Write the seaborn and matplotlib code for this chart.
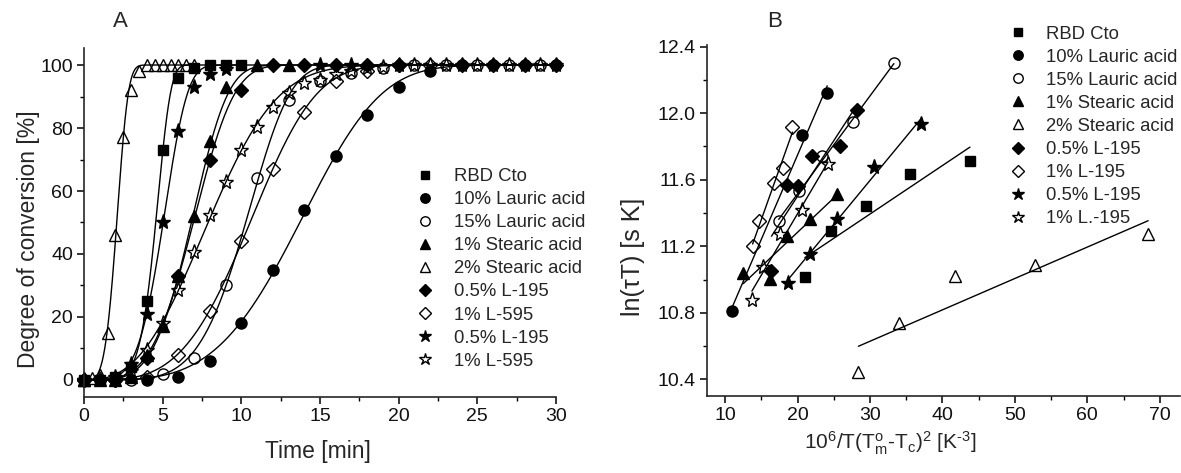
import numpy as np
import pandas as pd
import matplotlib
matplotlib.use('Agg')
import matplotlib.pyplot as plt
import seaborn as sns
from matplotlib.ticker import MultipleLocator
from matplotlib.lines import Line2D

sns.set_theme(style='ticks')
plt.rcParams['font.family'] = ['Liberation Sans', 'DejaVu Sans']
plt.rcParams['mathtext.fontset'] = 'custom'
plt.rcParams['mathtext.rm'] = 'Liberation Sans'
plt.rcParams['mathtext.it'] = 'Liberation Sans:italic'

# ---------------- Panel A data (Time [min], Degree of conversion [%]) ----------------
labels_A = ['RBD Cto', '10% Lauric acid', '15% Lauric acid', '1% Stearic acid',
            '2% Stearic acid', '0.5% L-195', '1% L-595', '0.5% L-195', '1% L-595']

rbd_t = [0, 1, 2, 3, 4, 5, 6, 7, 8, 9, 10]
rbd_x = [0, 0, 1, 4, 25, 73, 96, 99, 100, 100, 100]
lau10_t = [0, 2, 4, 6, 8, 10, 12, 14, 16, 18, 20, 22, 24, 26, 28, 30]
lau10_x = [0, 0, 0, 1, 6, 18, 35, 54, 71, 84, 93, 98, 100, 100, 100, 100]
lau15_t = [1, 3, 5, 7, 9, 11, 13, 15, 17, 19, 21, 23, 25, 27, 29]
lau15_x = [0, 0, 2, 7, 30, 64, 89, 95, 97.5, 99, 100, 100, 100, 100, 100]
st1_t = [0, 1, 2, 3, 4, 5, 6, 7, 8, 9, 11, 13]
st1_x = [0, 0, 0, 1, 8, 17, 33, 52, 76, 93, 100, 100]
st2_t = [0, 0.5, 1, 1.5, 2, 2.5, 3, 3.5, 4, 4.5, 5, 5.5, 6, 6.5, 7]
st2_x = [0, 0.5, 1.5, 15, 46, 77, 92, 98, 100, 100, 100, 100, 100, 100, 100]
l195d_t = [0, 2, 4, 6, 8, 10, 12, 14, 16, 18, 20]
l195d_x = [0, 0, 7, 33, 70, 92, 100, 100, 100, 100, 100]
l595d_t = [0, 2, 4, 6, 8, 10, 12, 14, 16, 18, 20, 22, 24, 26, 28, 30]
l595d_x = [0, 0, 1, 8, 22, 44, 67, 85, 95, 98, 100, 100, 100, 100, 100, 100]
l195s_t = [0, 1, 2, 3, 4, 5, 6, 7, 8, 9, 15, 17]
l195s_x = [0, 0, 1, 5, 21, 50, 79, 93, 97, 98.6, 100, 100]
l595s_t = [0, 1, 2, 3, 4, 5, 6, 7, 8, 9, 10, 11, 12, 13, 14, 15, 16, 17, 18, 19,
           20, 21, 22, 23, 24, 25, 26, 27, 28, 29, 30]
l595s_x = [0, 0, 0, 3, 9.5, 18, 28.6, 40.7, 52.4, 63, 73, 80.4, 86.8, 91.2, 94.2, 95.2,
           97, 98, 99, 99.5, 100, 100, 100, 100, 100, 100, 100, 100, 100, 100, 100]

series_A = [(rbd_t, rbd_x), (lau10_t, lau10_x), (lau15_t, lau15_x), (st1_t, st1_x),
            (st2_t, st2_x), (l195d_t, l195d_x), (l595d_t, l595d_x),
            (l195s_t, l195s_x), (l595s_t, l595s_x)]

# ---------------- Panel B data ----------------
labels_B = ['RBD Cto', '10% Lauric acid', '15% Lauric acid', '1% Stearic acid',
            '2% Stearic acid', '0.5% L-195', '1% L-195', '0.5% L-195', '1% L.-195']

b_rbd_x = [21.0, 24.6, 29.4, 35.5, 43.8]
b_rbd_y = [11.016, 11.29, 11.44, 11.636, 11.712]
b_lau10_x = [10.9, 20.6, 24.1]
b_lau10_y = [10.81, 11.87, 12.12]
b_lau15_x = [17.4, 20.2, 23.4, 27.7, 33.3]
b_lau15_y = [11.35, 11.53, 11.74, 11.95, 12.30]
b_st1_x = [12.5, 16.2, 18.6, 21.7, 25.4]
b_st1_y = [11.04, 11.006, 11.262, 11.366, 11.516]
b_st2_x = [28.4, 34.0, 41.8, 52.8, 68.4]
b_st2_y = [10.446, 10.74, 11.02, 11.086, 11.276]
b_l195d_x = [16.4, 18.6, 20.0, 22.0, 25.8, 28.2]
b_l195d_y = [11.05, 11.57, 11.56, 11.74, 11.80, 12.02]
b_l195o_x = [13.8, 14.7, 16.7, 18.0, 19.3]
b_l195o_y = [11.2, 11.35, 11.58, 11.67, 11.92]
b_l195s_x = [18.7, 21.7, 25.5, 30.6, 37.1]
b_l195s_y = [10.98, 11.156, 11.366, 11.676, 11.936]
b_l195os_x = [13.7, 15.3, 17.6, 20.6, 24.2]
b_l195os_y = [10.88, 11.076, 11.276, 11.416, 11.696]

series_B = [(b_rbd_x, b_rbd_y), (b_lau10_x, b_lau10_y), (b_lau15_x, b_lau15_y),
            (b_st1_x, b_st1_y), (b_st2_x, b_st2_y), (b_l195d_x, b_l195d_y),
            (b_l195o_x, b_l195o_y), (b_l195s_x, b_l195s_y), (b_l195os_x, b_l195os_y)]

# marker styles (marker, face, size)
marker_styles = [('s', 'black', 7.5), ('o', 'black', 8), ('o', 'none', 8),
                 ('^', 'black', 8.5), ('^', 'none', 8.5), ('D', 'black', 7),
                 ('D', 'none', 7), ('*', 'black', 11), ('*', 'none', 11)]


def avrami_fit(t, x):
    t = np.asarray(t, float)
    x = np.asarray(x, float) / 100.0
    m = (x > 0.02) & (x < 0.97) & (t > 0)
    lt = np.log(t[m])
    ly = np.log(-np.log(1 - x[m]))
    w = x[m] * (1 - x[m])
    n, lnk = np.polyfit(lt, ly, 1, w=w)
    tt = np.linspace(t.min(), t.max(), 400)
    return tt, 100 * (1 - np.exp(-np.exp(lnk) * tt ** n))


W, H = 1181, 473
fig = plt.figure(figsize=(W / 100, H / 100), dpi=100)
axA = fig.add_axes([84 / W, 1 - 397 / H, (556 - 84) / W, (397 - 48) / H])
axB = fig.add_axes([707 / W, 1 - 396 / H, (1180 - 707) / W, (396 - 45) / H])

# ---- Panel A ----
for (t, x), (mk, fc, ms) in zip(series_A, marker_styles):
    tt, ff = avrami_fit(t, x)
    sns.lineplot(x=tt, y=ff, ax=axA, color='black', lw=1.0, estimator=None, sort=False)
    sns.lineplot(x=t, y=x, ax=axA, color='black', linestyle='', marker=mk,
                 markersize=ms, markerfacecolor=fc, markeredgecolor='black',
                 markeredgewidth=1.0, estimator=None, sort=False, clip_on=False)

axA.set_xlim(0, 30)
axA.set_ylim(-5.4, 105.4)
axA.xaxis.set_major_locator(MultipleLocator(5))
axA.xaxis.set_minor_locator(MultipleLocator(2.5))
axA.set_yticks([0, 20, 40, 60, 80, 100])
axA.yaxis.set_minor_locator(MultipleLocator(10))
axA.set_xlabel('Time [min]', fontsize=16.5)
axA.set_ylabel('Degree of conversion [%]', fontsize=16.5)
axA.xaxis.set_label_coords(0.496, -0.123)
axA.yaxis.set_label_coords(-0.094, 0.4536)

# ---- Panel B ----
for (x, y), (mk, fc, ms) in zip(series_B, marker_styles):
    df = pd.DataFrame({'x': x, 'y': y})
    sns.regplot(data=df, x='x', y='y', ax=axB, scatter=False, ci=None,
                color='black', line_kws={'lw': 1.0})
    sns.lineplot(x=x, y=y, ax=axB, color='black', linestyle='', marker=mk,
                 markersize=ms, markerfacecolor=fc, markeredgecolor='black',
                 markeredgewidth=1.0, estimator=None, sort=False, clip_on=False)

axB.set_xlim(7.5, 72.8)
axB.set_ylim(10.3, 12.41)
axB.xaxis.set_major_locator(MultipleLocator(10))
axB.xaxis.set_minor_locator(MultipleLocator(5))
axB.set_yticks([10.4, 10.8, 11.2, 11.6, 12.0, 12.4])
axB.yaxis.set_minor_locator(MultipleLocator(0.2))
axB.set_yticklabels(['10.4', '10.8', '11.2', '11.6', '12.0', '12.4'])
axB.set_xlabel(r'10$^{\rm 6}$/T(T$^{\rm o}_{\rm m}$-T$_{\rm c}$)$^{\rm 2}$ [K$^{\rm ‐3}$]',
               fontsize=15)
axB.set_ylabel('ln(τT) [s K]', fontsize=18)
axB.xaxis.set_label_coords(0.387, -0.097)
axB.yaxis.set_label_coords(-0.132, 0.397)

for ax in (axA, axB):
    sns.despine(ax=ax)
    ax.spines['left'].set_linewidth(1.2)
    ax.spines['bottom'].set_linewidth(1.2)
    ax.tick_params(which='major', length=5, width=1.1, labelsize=14, pad=3,
                   color='black', labelcolor='#111111')
    ax.tick_params(which='minor', length=3, width=1.0, color='black')
    ax.set_facecolor('white')


def handles(labels):
    return [Line2D([], [], linestyle='None', marker=mk, markersize=ms * 0.85,
                   markerfacecolor=fc, markeredgecolor='black', markeredgewidth=1.0,
                   color='black', label=lab)
            for lab, (mk, fc, ms) in zip(labels, marker_styles)]


axA.legend(handles=handles(labels_A), loc='upper left',
           bbox_to_anchor=(416 / W, 1 - 168 / H), bbox_transform=fig.transFigure,
           frameon=False, fontsize=13.3, handlelength=1.0, handletextpad=1.05,
           labelspacing=0.33, borderpad=0, borderaxespad=0)
axB.legend(handles=handles(labels_B), loc='upper left',
           bbox_to_anchor=(1009 / W, 1 - 25.5 / H), bbox_transform=fig.transFigure,
           frameon=False, fontsize=13.3, handlelength=1.0, handletextpad=1.0,
           labelspacing=0.33, borderpad=0, borderaxespad=0)

fig.text(120 / W, 1 - 21 / H, 'A', fontsize=16, ha='center', va='center')
fig.text(775 / W, 1 - 21 / H, 'B', fontsize=16, ha='center', va='center')

fig.savefig('out.png', dpi=100, facecolor='white')
